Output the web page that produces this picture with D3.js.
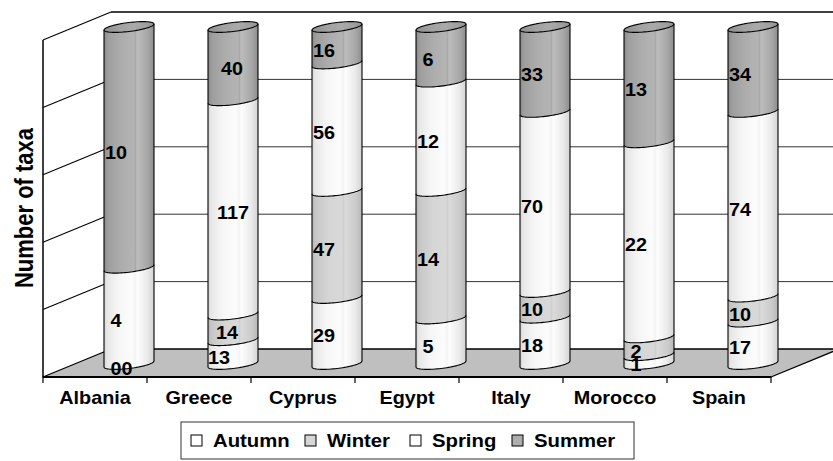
<!DOCTYPE html>
<html><head><meta charset="utf-8">
<script src="https://cdn.jsdelivr.net/npm/d3@7"></script>
<style>
body{margin:0;background:#fff}
svg{display:block}
text{font-family:"Liberation Sans",Arial,sans-serif;font-weight:bold;fill:#000}
</style>
</head><body>
<svg id="chart" width="833" height="461"></svg>
<script>
// ---- data ----
const categories = ["Albania","Greece","Cyprus","Egypt","Italy","Morocco","Spain"];
const seasons = ["Autumn","Winter","Spring","Summer"];
const autumn = [0,13,29,5,18,1,17];
const winter = [0,14,47,14,10,2,10];
const spring = [4,117,56,12,70,22,74];
const summer = [10,40,16,6,33,13,34];
const yTicks = [0,20,40,60,80,100];
const yTitle = "Number of taxa";

// ---- layout ----
const svg = d3.select("#chart");
const front = {left:43, right:771, top:40, bottom:377};
const depth = {dx:68, dy:-28};
const R = 25, RY = 4.5, TILT = 3;
const SX = 1.1;

const rows = categories.map((c,i)=>({cat:c, Autumn:autumn[i], Winter:winter[i], Spring:spring[i], Summer:summer[i]}));
const stack = d3.stack().keys(seasons).offset(d3.stackOffsetExpand)(rows);

const x = d3.scaleBand().domain(categories).range([front.left, front.right]);
const yPct = d3.scaleLinear().domain([0,100]).range([front.bottom, front.top]);
const cxOf = c => x(c) + x.bandwidth()/2 + depth.dx/2;
const cyOf = p => yPct(p) + depth.dy/2 + 1;

// gradients
const defs = svg.append("defs");
const gradSpecs = {
  light: [[0,"#d6d6d6"],[0.07,"#e8e8e8"],[0.3,"#f6f6f6"],[0.55,"#fcfcfc"],[0.63,"#f4f4f4"],[0.66,"#fdfdfd"],[0.85,"#ececec"],[1,"#d4d4d4"]],
  mid:   [[0,"#b8b8b8"],[0.08,"#c8c8c8"],[0.35,"#d6d6d6"],[0.6,"#d8d8d8"],[0.63,"#cfcfcf"],[0.66,"#dadada"],[0.88,"#cbcbcb"],[1,"#b6b6b6"]],
  dark:  [[0,"#8a8a8a"],[0.08,"#9e9e9e"],[0.35,"#adadad"],[0.6,"#b4b4b4"],[0.63,"#a8a8a8"],[0.66,"#bdbdbd"],[0.88,"#a6a6a6"],[1,"#8c8c8c"]],
  cap:   [[0,"#8c8c8c"],[0.3,"#a2a2a2"],[0.6,"#aaaaaa"],[1,"#959595"]]
};
Object.entries(gradSpecs).forEach(([id,stops])=>{
  const g = defs.append("linearGradient").attr("id","g-"+id).attr("x1","0").attr("x2","1").attr("y1","0").attr("y2","0");
  stops.forEach(([o,c])=>g.append("stop").attr("offset",o).attr("stop-color",c));
});
const seasonFill = {Autumn:"url(#g-light)", Winter:"url(#g-mid)", Spring:"url(#g-light)", Summer:"url(#g-dark)"};
const legendFill = {Autumn:"#ffffff", Winter:"#d6d6d6", Spring:"#ffffff", Summer:"#adadad"};

// ---- side wall ----
const side = svg.append("g");
side.append("path")
  .attr("d", `M${front.left},${yPct(0)} L${front.left+depth.dx},${yPct(0)+depth.dy} L${front.left+depth.dx},${yPct(100)+depth.dy} L${front.left},${yPct(100)} Z`)
  .attr("fill","#fff");
side.selectAll("line").data(yTicks.filter(d=>d>0)).join("line")
  .attr("x1",front.left).attr("y1",d=>yPct(d))
  .attr("x2",front.left+depth.dx).attr("y2",d=>yPct(d)+depth.dy)
  .attr("stroke","#000").attr("stroke-width",1.1);

// ---- back wall gridlines ----
const backX0 = front.left+depth.dx, backX1 = front.right+depth.dx;
svg.append("g").selectAll("line").data(yTicks.filter(d=>d>0)).join("line")
  .attr("x1",backX0).attr("x2",backX1)
  .attr("y1",d=>yPct(d)+depth.dy).attr("y2",d=>yPct(d)+depth.dy)
  .attr("stroke",d=>d===100?"#000":"#333").attr("stroke-width",d=>d===100?1.4:1);

// ---- floor ----
svg.append("path")
  .attr("d", `M${front.left},${yPct(0)} L${front.right},${yPct(0)} L${front.right+depth.dx},${yPct(0)+depth.dy} L${front.left+depth.dx},${yPct(0)+depth.dy} Z`)
  .attr("fill","#bfbfbf").attr("stroke","#000").attr("stroke-width",1.3).attr("stroke-linejoin","round");

// axes
svg.append("line").attr("x1",front.left).attr("x2",front.left).attr("y1",yPct(100)).attr("y2",yPct(0))
  .attr("stroke","#000").attr("stroke-width",1.5);
svg.append("line").attr("x1",front.left).attr("x2",front.right).attr("y1",yPct(0)).attr("y2",yPct(0))
  .attr("stroke","#000").attr("stroke-width",2);
const tickXs = categories.map(c=>x(c)).concat([front.right]);
svg.append("g").selectAll("line").data(tickXs).join("line")
  .attr("x1",d=>d).attr("x2",d=>d).attr("y1",yPct(0)).attr("y2",yPct(0)+6)
  .attr("stroke","#000").attr("stroke-width",1.2);

// ---- cylinders ----
function curvePts(cx, cy, a0, a1, n=40){
  const pts=[];
  for(let i=0;i<=n;i++){
    const t = a0 + (a1-a0)*i/n;
    pts.push([cx + R*Math.cos(t), cy - RY*Math.sin(t) - TILT*Math.cos(t)]);
  }
  return pts;
}
const line = d3.line();
const cyl = svg.append("g");
categories.forEach((c,j)=>{
  const cx = cxOf(c);
  const g = cyl.append("g");
  stack.forEach(s=>{
    const [p0,p1] = s[j];
    if(p1-p0 <= 0) return;
    const yb = cyOf(p0*100), yt = cyOf(p1*100);
    const bottom = curvePts(cx, yb, Math.PI, 2*Math.PI);
    const top = curvePts(cx, yt, 2*Math.PI, Math.PI);
    g.append("path").attr("d", line(bottom.concat(top))+"Z")
      .attr("fill", seasonFill[s.key]).attr("stroke","none");
  });
  // seams
  const bounds = [0].concat(stack.map(s=>s[j][1]).filter((v,i,a)=>v<1 && (i===0||v!==a[i-1]) && v>0));
  bounds.forEach(p=>{
    g.append("path").attr("d", line(curvePts(cx, cyOf(p*100), Math.PI, 2*Math.PI)))
      .attr("fill","none").attr("stroke","#000").attr("stroke-width",1.1);
  });
  // sides
  [-1,1].forEach(sg=>{
    const xx = cx + sg*R;
    g.append("line").attr("x1",xx).attr("x2",xx)
      .attr("y1",cyOf(0) - sg*TILT).attr("y2",cyOf(100) - sg*TILT)
      .attr("stroke","#000").attr("stroke-width",1.1);
  });
  // top cap
  g.append("path").attr("d", line(curvePts(cx, cyOf(100), 0, 2*Math.PI, 80))+"Z")
    .attr("fill","url(#g-cap)").attr("stroke","#000").attr("stroke-width",1.1);
});

// ---- data labels ----
const labelNudge = {Greece:[-14,-6,0,-1]};
const lab = svg.append("g");
categories.forEach((c,j)=>{
  const cx = cxOf(c);
  let prevY = null, prevX = null;
  stack.forEach((s,i)=>{
    const [p0,p1] = s[j];
    const v = rows[j][s.key];
    let lx = cx + (labelNudge[c] ? labelNudge[c][i] : -13);
    const ly = cyOf((p0+p1)/2*100) + 5;
    if(prevY!==null && Math.abs(ly-prevY)<8) lx = prevX + 11;
    prevY = ly; prevX = lx;
    lab.append("g").attr("transform",`translate(${lx},${ly}) scale(${SX},1)`)
      .append("text").attr("text-anchor","middle").attr("dy","0.36em")
      .style("font-size","18px").text(v);
  });
});

// ---- category labels ----
svg.append("g").selectAll("g").data(categories).join("g")
  .attr("transform",d=>`translate(${x(d)+x.bandwidth()/2},404) scale(${SX},1)`)
  .append("text").attr("text-anchor","middle").style("font-size","18px").text(d=>d);

// ---- y title ----
svg.append("g").attr("transform","translate(33,208) scale(1.14,1) rotate(-90)")
  .append("text").attr("text-anchor","middle").style("font-size","22px").text(yTitle);

// ---- legend ----
const leg = svg.append("g");
leg.append("rect").attr("x",181).attr("y",422).attr("width",453).attr("height",37)
  .attr("fill","#fff").attr("stroke","#333").attr("stroke-width",1);
const legX = [191,305,410,512];
seasons.forEach((s,i)=>{
  leg.append("rect").attr("x",legX[i]).attr("y",435).attr("width",11).attr("height",11)
    .attr("fill",legendFill[s]).attr("stroke","#000").attr("stroke-width",1);
  leg.append("g").attr("transform",`translate(${legX[i]+22},447) scale(1.07,1)`)
    .append("text").style("font-size","19px").text(s);
});
</script>
</body></html>
